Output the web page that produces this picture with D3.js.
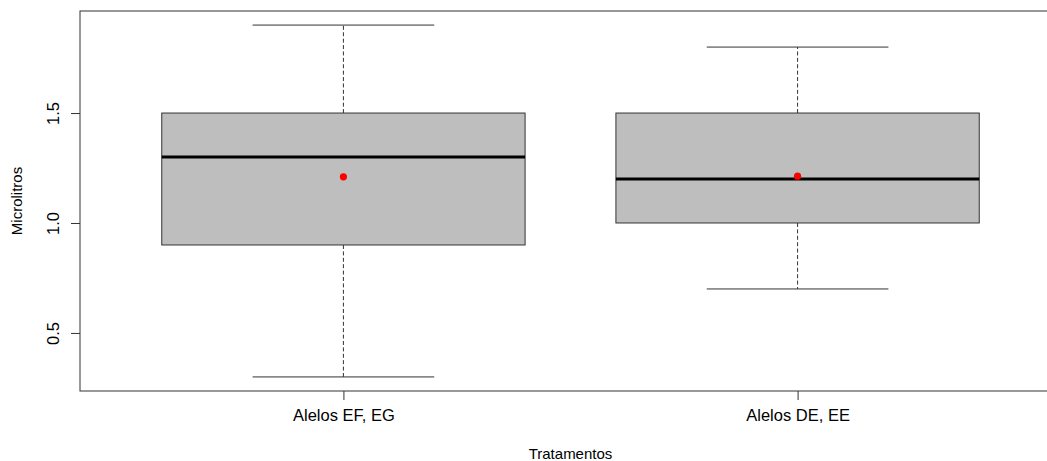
<!DOCTYPE html>
<html><head><meta charset="utf-8">
<script src="https://cdn.jsdelivr.net/npm/d3@7"></script>
<style>html,body{margin:0;padding:0;background:#fff;overflow:hidden}</style>
</head><body>
<svg id="c" width="1047" height="461"></svg>
<script>
const categories = ["Alelos EF, EG", "Alelos DE, EE"];
const whiskerLow = [0.30, 0.70];
const q1 = [0.90, 1.00];
const medians = [1.30, 1.20];
const q3 = [1.50, 1.50];
const whiskerHigh = [1.90, 1.80];
const means = [1.21, 1.213];
const yTicks = [0.5, 1.0, 1.5];
const xTitle = "Tratamentos";
const yTitle = "Microlitros";

const svg = d3.select("#c");
const L = 80, T = 11, B = 391, R = 1061;
const font = "'Liberation Sans', Arial, sans-serif";

const x = d3.scaleLinear().domain([0.42, 2.58]).range([L, R]);
const yMin = d3.min(whiskerLow), yMax = d3.max(whiskerHigh), pad = (yMax - yMin) * 0.04;
const y = d3.scaleLinear().domain([yMin - pad, yMax + pad]).range([B, T]);

const boxes = categories.map((c, i) => ({c, i: i + 1, lo: whiskerLow[i], q1: q1[i], med: medians[i], q3: q3[i], hi: whiskerHigh[i], mean: means[i]}));
const hw = 0.4, cw = 0.2;
const g = svg.append("g");

boxes.forEach(b => {
  g.append("line").attr("x1", x(b.i)).attr("x2", x(b.i)).attr("y1", y(b.q3)).attr("y2", y(b.hi))
    .attr("stroke", "#333").attr("stroke-width", 1).attr("stroke-dasharray", "4,2.4");
  g.append("line").attr("x1", x(b.i)).attr("x2", x(b.i)).attr("y1", y(b.q1)).attr("y2", y(b.lo))
    .attr("stroke", "#333").attr("stroke-width", 1).attr("stroke-dasharray", "4,2.4");
  [b.hi, b.lo].forEach(v => g.append("line").attr("x1", x(b.i - cw)).attr("x2", x(b.i + cw))
    .attr("y1", y(v)).attr("y2", y(v)).attr("stroke", "#333").attr("stroke-width", 1));
  g.append("rect").attr("x", x(b.i - hw)).attr("width", x(b.i + hw) - x(b.i - hw))
    .attr("y", y(b.q3)).attr("height", y(b.q1) - y(b.q3))
    .attr("fill", "#bebebe").attr("stroke", "#333").attr("stroke-width", 1);
  g.append("line").attr("x1", x(b.i - hw)).attr("x2", x(b.i + hw)).attr("y1", y(b.med)).attr("y2", y(b.med))
    .attr("stroke", "#000").attr("stroke-width", 3);
  g.append("circle").attr("cx", x(b.i)).attr("cy", y(b.mean)).attr("r", 3.6).attr("fill", "#ff0000");
});

svg.append("rect").attr("x", L).attr("y", T).attr("width", R - L).attr("height", B - T)
  .attr("fill", "none").attr("stroke", "#333").attr("stroke-width", 1);

const ya = svg.append("g").attr("transform", `translate(${L},0)`)
  .call(d3.axisLeft(y).tickValues(yTicks).tickFormat(d3.format(".1f")).tickSize(9).tickSizeOuter(0));
ya.select(".domain").remove();
ya.selectAll(".tick line").attr("stroke", "#333");
ya.selectAll(".tick text").attr("font-family", font).attr("font-size", 16.5).attr("fill", "#000")
  .attr("x", 0).attr("dy", 0).attr("text-anchor", "middle")
  .attr("transform", "translate(-21,0) rotate(-90)").attr("y", 0);

const xa = svg.append("g").attr("transform", `translate(0,${B})`)
  .call(d3.axisBottom(x).tickValues([1, 2]).tickFormat(d => categories[d - 1]).tickSize(9).tickSizeOuter(0));
xa.select(".domain").remove();
xa.selectAll(".tick line").attr("stroke", "#333");
xa.selectAll(".tick text").attr("font-family", font).attr("font-size", 16.5).attr("fill", "#000")
  .attr("dy", 0).attr("y", 30);

svg.append("text").attr("x", (L + R) / 2).attr("y", 459).attr("text-anchor", "middle")
  .attr("font-family", font).attr("font-size", 15).text(xTitle);
svg.append("text").attr("transform", `translate(22,${(T + B) / 2}) rotate(-90)`).attr("text-anchor", "middle")
  .attr("font-family", font).attr("font-size", 15).text(yTitle);
</script>
</body></html>
